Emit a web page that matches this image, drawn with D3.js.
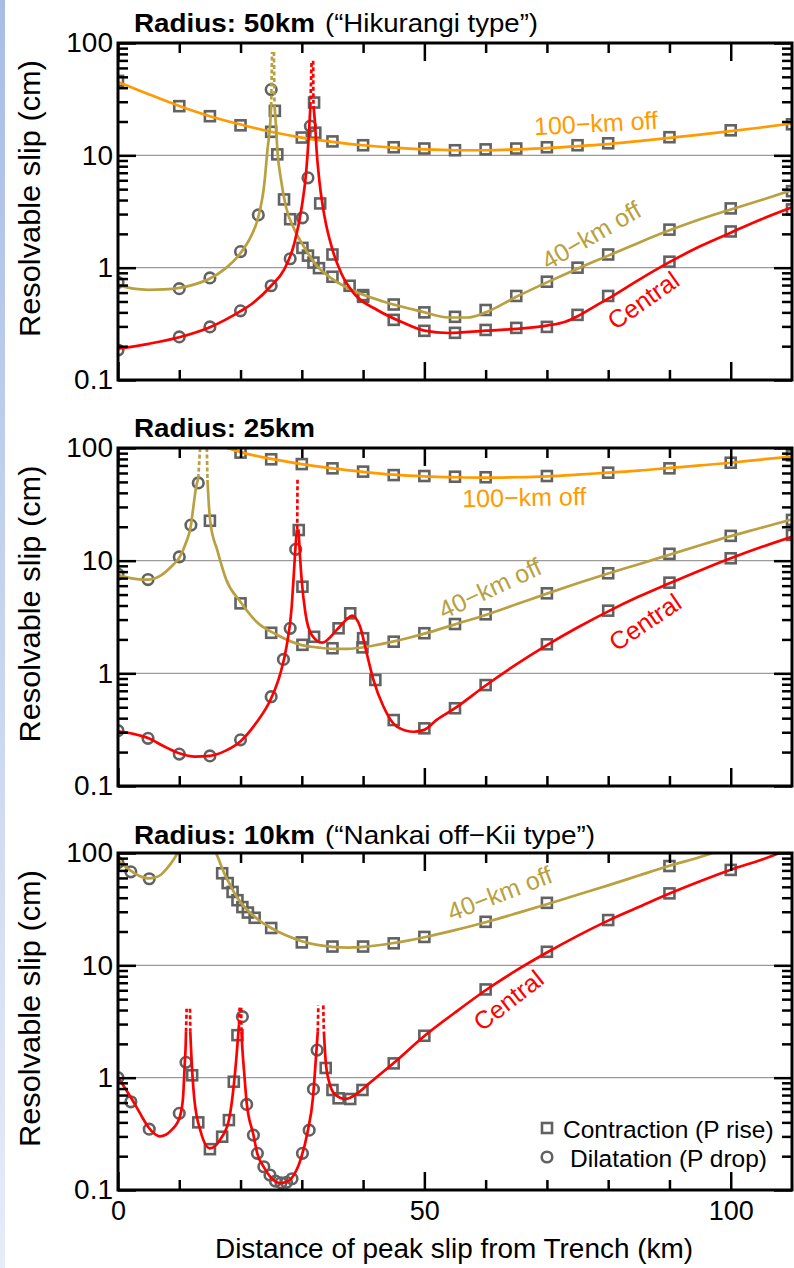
<!DOCTYPE html>
<html>
<head>
<meta charset="utf-8">
<script src="https://cdn.jsdelivr.net/npm/d3@7"></script>
<style>
  html, body { margin: 0; padding: 0; background: #fff; }
  svg { display: block; }
  text { font-family: "Liberation Sans", Arial, Helvetica, sans-serif; }
</style>
</head>
<body>
<div id="chart"></div>
<script>
// =========================
// AXES / TICKS
// =========================
const xDomain = [0, 110];
const yDomain = [0.1, 100];
const xMajorTicks = [0, 50, 100];
const xMinorTicks = [10, 20, 30, 40, 60, 70, 80, 90];
const yMajorTicks = [0.1, 1, 10, 100];
const yMinorTicks = [0.2, 0.3, 0.4, 0.5, 0.6, 0.7, 0.8, 0.9, 2, 3, 4, 5, 6, 7, 8, 9, 20, 30, 40, 50, 60, 70, 80, 90];
const gridValues = [1, 10];

const panelTitles = ["Radius: 50km", "Radius: 25km", "Radius: 10km"];
const panelSubtitles = ["(\u201CHikurangi type\u201D)", "", "(\u201CNankai off\u2212Kii type\u201D)"];
const legendLabels = ["Contraction (P rise)", "Dilatation (P drop)"];

// =========================
// RADIUS 50 km
// =========================
const r50Off100Line = [[0,45],[5,35],[10,27.5],[15,22.3],[20,18.8],[25,16.2],[30,14.4],[35,13.2],[40,12.3],[45,11.7],[50,11.3],[55,11.1],[60,11.1],[65,11.3],[70,11.6],[75,12.1],[80,12.6],[85,13.4],[90,14.3],[95,15.3],[100,16.4],[105,17.7],[110,19.2]];
const r50Off40Left = [[0,0.70],[2.5,0.65],[5,0.635],[7.5,0.64],[10,0.66],[12.5,0.71],[15,0.80],[17.5,0.98],[20,1.35],[21.7,1.9],[22.8,2.7],[23.9,5.7],[24.4,11.3],[24.85,19.5],[25.0,27.5]];
const r50Off40Right = [[25.55,27.5],[25.75,19.5],[26.0,11.3],[26.6,6.1],[27.4,3.5],[28.8,2.18],[30.3,1.55],[32.5,1.03],[35.2,0.78],[38,0.64],[43.3,0.5],[49.3,0.41],[54,0.36],[57,0.36],[60,0.40],[65,0.55],[70,0.74],[75,0.98],[80,1.28],[85,1.67],[90,2.15],[95,2.7],[100,3.3],[105,4.0],[110,4.9]];
const r50Off40Dash = [[[25.0,27.5],[25.15,83]], [[25.45,83],[25.55,27.5]]];
const r50CentralLeft = [[0,0.19],[5,0.21],[10,0.24],[15,0.295],[20,0.41],[21.7,0.47],[25,0.69],[27.1,0.96],[28.8,1.66],[30.0,3.5],[30.7,7],[31.1,13.9],[31.4,27.5]];
const r50CentralRight = [[31.9,27.5],[32.15,19.5],[32.4,11.3],[32.9,5.7],[33.7,2.87],[35,1.45],[36.4,0.9],[38.5,0.59],[42.3,0.42],[46.2,0.33],[50,0.275],[54,0.262],[60,0.275],[65,0.285],[70,0.305],[73,0.33],[75,0.37],[78,0.46],[80,0.53],[85,0.78],[90,1.12],[95,1.55],[100,2.05],[105,2.7],[110,3.45]];
const r50CentralDash = [[[31.4,27.5],[31.6,69.5]], [[31.85,69.5],[31.9,27.5]]];

const r50Off100Sq = [[0,46],[10,27.4],[15,22.3],[20,18.5],[25,16.2],[30,14.4],[35,13.3],[40,12.3],[45,11.8],[50,11.5],[55,11.1],[60,11.3],[65,11.5],[70,11.8],[75,12.3],[80,12.8],[90,14.5],[100,16.7],[110,18.9]];
const r50Off40Sq = [[25.6,24.9],[26.0,10.2],[27.1,4.05],[28.1,2.7],[30.1,1.5],[31.0,1.28],[31.9,1.11],[32.8,0.99],[35,0.83],[37.8,0.69],[40,0.57],[45,0.47],[50,0.40],[55,0.365],[60,0.42],[65,0.56],[70,0.75],[75,1.0],[80,1.31],[90,2.18],[100,3.37],[110,4.8]];
const r50Off40Ci = [[0,0.74],[10,0.65],[15,0.81],[20,1.39],[22.9,2.95],[25.0,38.5]];
const r50CentralSq = [[32.0,29.5],[32.2,15.9],[33.0,3.73],[35,1.31],[40,0.55],[45,0.343],[50,0.274],[55,0.263],[60,0.279],[65,0.291],[70,0.297],[75,0.38],[80,0.56],[90,1.13],[100,2.1],[110,3.3]];
const r50CentralCi = [[0,0.185],[10,0.242],[15,0.297],[20,0.413],[25.0,0.69],[28.1,1.2],[30.1,2.78],[31.0,6.3],[31.4,18.2]];

// =========================
// RADIUS 25 km
// =========================
const r25Off100Line = [[17.8,100],[20,92],[25,80],[30,72],[35,66],[40,61.5],[45,58],[50,56],[55,55],[60,54.5],[65,55],[70,56],[75,58],[80,60.5],[85,63],[90,66.5],[95,70],[100,74],[105,79],[110,84]];
const r25Off40Left = [[0,7.5],[2,7.0],[4,6.8],[5,6.8],[7,7.4],[9,9.2],[10,10.6],[11,14],[11.9,20.5],[12.3,30],[12.75,45],[13.1,54]];
const r25Off40Right = [[14.6,52],[14.8,33],[15.1,21.4],[16.2,12.4],[17.7,6.7],[20,4.3],[22.6,2.87],[26,2.19],[30,1.78],[32.5,1.7],[35,1.65],[37.5,1.65],[40,1.7],[42.5,1.8],[45,1.92],[47.5,2.07],[50,2.25],[55,2.72],[60,3.3],[65,4.1],[70,5.1],[75,6.3],[80,7.7],[85,9.3],[90,11.3],[95,13.7],[100,16.5],[105,19.6],[110,23.3]];
const r25Off40Dash = [[[13.1,54],[13.4,100]], [[14.5,100],[14.6,52]]];
const r25CentralLeft = [[0,0.305],[2.5,0.29],[5,0.265],[7.5,0.225],[10,0.195],[12.5,0.182],[15,0.185],[17.5,0.205],[20,0.25],[22.5,0.36],[25,0.6],[26.5,1.0],[27.5,1.72],[28.35,3.9],[28.7,7.7],[29.05,15.2],[29.2,19]];
const r25CentralRight = [[29.45,19],[29.7,11],[30,6.5],[30.6,3.4],[31.6,2.2],[33.3,1.87],[35.7,2.43],[37.3,3.0],[38.2,3.25],[39.5,2.6],[40.6,1.5],[41.7,0.87],[43.3,0.51],[45.5,0.337],[48.3,0.303],[50,0.315],[52,0.386],[55,0.49],[60,0.78],[65,1.2],[70,1.78],[75,2.55],[80,3.55],[85,4.8],[90,6.3],[95,8.2],[100,10.5],[105,13.2],[110,16.3]];
const r25CentralDash = [[[29.25,19],[29.3,54]]];

const r25Off100Sq = [[20,91],[25,79.4],[30,72],[35,66],[40,61.7],[45,57.5],[50,56.4],[55,55.6],[60,55],[70,56.4],[80,60.4],[90,66],[100,74],[110,86]];
const r25Off40Sq = [[15,22.6],[20,4.18],[25,2.29],[30.1,1.79],[35,1.67],[39.9,1.70],[45,1.91],[50,2.27],[55,2.74],[60,3.34],[70,5.13],[80,7.73],[90,11.5],[100,16.6],[110,23]];
const r25Off40Ci = [[0,7.6],[4.9,6.8],[10,10.8],[11.9,20.7],[13.1,49]];
const r25CentralSq = [[29.5,18.7],[30.1,5.87],[32,2.11],[36,2.51],[37.9,3.41],[40,2.05],[42,0.873],[45,0.385],[50,0.325],[55,0.49],[60,0.787],[70,1.81],[80,3.6],[90,6.38],[100,10.5],[110,16.9]];
const r25CentralCi = [[0,0.31],[4.9,0.265],[10,0.192],[15,0.185],[20,0.257],[25,0.62],[27,1.33],[28.1,2.51],[29,12.6]];

// =========================
// RADIUS 10 km
// =========================
const r10Off40Left = [[0,87],[1,77],[2,70],[3,64.5],[4,61],[5,59.5],[6,60.5],[7,64],[8,73],[9,86],[9.7,100]];
const r10Off40Right = [[16,100],[16.5,86],[17,73],[17.5,63],[18,56],[19,44],[20,36.5],[21,31.5],[22,28],[23,25.2],[25,21.5],[27.5,18.4],[30,16.4],[32.5,15.2],[35,14.6],[37.5,14.4],[40,14.6],[42.5,15.1],[45,15.8],[47.5,16.7],[50,17.8],[55,20.6],[60,24.2],[65,29],[70,35],[75,42.5],[80,51.5],[85,63],[90,77],[95,92],[97.1,100]];
const r10CentralA = [[0,1.0],[1,0.83],[2,0.68],[3,0.55],[4,0.44],[5,0.36],[6,0.315],[6.8,0.30],[7.8,0.31],[8.8,0.345],[9.6,0.39],[10.1,0.45],[10.6,0.65],[10.9,1.35],[11.05,2.0],[11.1,2.56]];
const r10CentralB = [[11.8,2.56],[11.9,1.9],[12.45,0.65],[13.5,0.33],[15,0.235],[16.8,0.288],[18.1,0.42],[18.9,0.86],[19.4,1.7],[19.75,3.0]];
const r10CentralC = [[20.15,2.56],[20.3,1.8],[20.6,1.1],[21,0.6],[22.1,0.31],[22.75,0.21],[23.8,0.16],[24.8,0.132],[25.8,0.118],[26.5,0.115],[27.3,0.117],[28.2,0.125],[29.85,0.19],[30.95,0.33],[31.8,0.65],[32.3,1.49],[32.6,2.56]];
const r10CentralD = [[33.6,2.56],[33.9,1.39],[34.45,0.92],[35.5,0.70],[37.1,0.646],[39,0.72],[41.3,0.92],[45,1.35],[50,2.35],[55,3.8],[60,6.0],[65,9.0],[70,13.0],[75,18.3],[80,25],[85,33],[90,43.5],[95,56],[100,71],[105,87],[108,100]];
const r10CentralDash = [[[11.1,2.56],[11.2,4.1]], [[11.75,4.1],[11.8,2.56]], [[19.75,3.0],[19.85,4.2]], [[20.1,4.2],[20.15,2.56]], [[32.6,2.56],[32.7,4.4]], [[33.5,4.4],[33.6,2.56]]];

const r10Off40Sq = [[17,66],[17.9,54],[18.7,45],[19.5,38],[20.3,33],[21.2,29.5],[22.3,26.5],[25,21.5],[30,16.0],[35,14.7],[40,14.7],[45,15.7],[50,17.9],[60,24.4],[70,36],[90,76.6]];
const r10Off40Ci = [[0,82],[2.1,68],[5.1,59]];
const r10CentralSq = [[12.1,1.05],[13.1,0.40],[15,0.231],[17,0.298],[18.1,0.419],[18.9,0.92],[19.5,2.39],[33.9,1.22],[35,0.777],[36,0.655],[37.9,0.646],[39.9,0.777],[45,1.34],[50,2.36],[60,6.1],[70,13.2],[80,25.3],[90,43.7],[100,70.7]];
const r10CentralCi = [[0,1.0],[2.1,0.61],[5.1,0.348],[10,0.481],[11.1,1.37],[20.3,3.49],[21,0.578],[22.1,0.308],[22.75,0.212],[23.8,0.161],[24.8,0.136],[25.7,0.12],[26.6,0.116],[27.5,0.117],[28.4,0.126],[30.1,0.212],[31.2,0.341],[31.9,0.79],[32.5,1.76]];

// curve labels: [text, x (km), y (cm), angle, series]
const r50Labels = [["100\u2212km off",78.0,19.4,-3,"off100"],["40\u2212km off",77.2,1.95,-30,"off40"],["Central",85.7,0.515,-35,"central"]];
const r25Labels = [["100\u2212km off",66.3,36.7,-1,"off100"],["40\u2212km off",60.7,5.7,-25,"off40"],["Central",86.0,2.86,-34,"central"]];
const r10Labels = [["40\u2212km off",62.3,44,-21,"off40"],["Central",63.7,4.9,-38,"central"]];

// =========================
// STYLE
// =========================
const COLORS = { off100: "#ff9a00", off40: "#b9a040", central: "#ff0000" };
const MARKER = "#626262";
const W = 794, H = 1268;
const frameX = [118, 792];

const layout = [
    { top: 43, bottom: 380, titleY: 31.5, subX: 325, subLen: 213 },
    { top: 448, bottom: 786, titleY: 437, subX: 325, subLen: 0 },
    { top: 853, bottom: 1190, titleY: 844, subX: 325, subLen: 270 }
];

const panels = [
    {
        series: [
            { key: "off100", solid: [r50Off100Line], dashed: [] },
            { key: "off40", solid: [r50Off40Left, r50Off40Right], dashed: r50Off40Dash },
            { key: "central", solid: [r50CentralLeft, r50CentralRight], dashed: r50CentralDash }
        ],
        squares: [...r50Off100Sq, ...r50Off40Sq, ...r50CentralSq],
        circles: [...r50Off40Ci, ...r50CentralCi],
        labels: r50Labels
    },
    {
        series: [
            { key: "off100", solid: [r25Off100Line], dashed: [] },
            { key: "off40", solid: [r25Off40Left, r25Off40Right], dashed: r25Off40Dash },
            { key: "central", solid: [r25CentralLeft, r25CentralRight], dashed: r25CentralDash }
        ],
        squares: [...r25Off100Sq, ...r25Off40Sq, ...r25CentralSq],
        circles: [...r25Off40Ci, ...r25CentralCi],
        labels: r25Labels
    },
    {
        series: [
            { key: "off40", solid: [r10Off40Left, r10Off40Right], dashed: [] },
            { key: "central", solid: [r10CentralA, r10CentralB, r10CentralC, r10CentralD], dashed: r10CentralDash }
        ],
        squares: [...r10Off40Sq, ...r10CentralSq],
        circles: [...r10Off40Ci, ...r10CentralCi],
        labels: r10Labels
    }
];

const svg = d3.select("#chart")
    .append("svg")
    .attr("width", W)
    .attr("height", H);

const defs = svg.append("defs");

// light blue strip on the left edge
const grad = defs.append("linearGradient")
    .attr("id", "strip")
    .attr("x1", 0).attr("y1", 0).attr("x2", 0).attr("y2", 1);
grad.append("stop").attr("offset", "0%").attr("stop-color", "#a8bde6");
grad.append("stop").attr("offset", "100%").attr("stop-color", "#e6ecf8");
svg.append("rect")
    .attr("x", 0).attr("y", 0)
    .attr("width", 5).attr("height", H)
    .attr("fill", "url(#strip)");

const x = d3.scaleLinear().domain(xDomain).range(frameX);

panels.forEach((p, i) => {
    const L = layout[i];
    const y = d3.scaleLog().domain(yDomain).range([L.bottom, L.top]);
    const g = svg.append("g");

    defs.append("clipPath").attr("id", "clip" + i)
        .append("rect")
        .attr("x", frameX[0]).attr("y", L.top)
        .attr("width", frameX[1] - frameX[0])
        .attr("height", L.bottom - L.top);

    // gridlines
    g.selectAll(".grid")
        .data(gridValues)
        .join("line")
        .attr("x1", frameX[0]).attr("x2", frameX[1])
        .attr("y1", d => y(d)).attr("y2", d => y(d))
        .attr("stroke", "#9a9a9a")
        .attr("stroke-width", 1.2);

    const plot = g.append("g").attr("clip-path", `url(#clip${i})`);

    // markers
    plot.selectAll(".sq")
        .data(p.squares)
        .join("rect")
        .attr("x", d => x(d[0]) - 5)
        .attr("y", d => y(d[1]) - 5)
        .attr("width", 10).attr("height", 10)
        .attr("fill", "none")
        .attr("stroke", MARKER)
        .attr("stroke-width", 2.6);

    plot.selectAll(".ci")
        .data(p.circles)
        .join("circle")
        .attr("cx", d => x(d[0]))
        .attr("cy", d => y(d[1]))
        .attr("r", 5.3)
        .attr("fill", "none")
        .attr("stroke", MARKER)
        .attr("stroke-width", 2.6);

    // curves
    const line = d3.line()
        .x(d => x(d[0]))
        .y(d => y(d[1]))
        .curve(d3.curveMonotoneX);
    const straight = d3.line().x(d => x(d[0])).y(d => y(d[1]));

    p.series.forEach(s => {
        s.solid.forEach(seg => {
            plot.append("path")
                .attr("d", line(seg))
                .attr("fill", "none")
                .attr("stroke", COLORS[s.key])
                .attr("stroke-width", 2.7);
        });
        s.dashed.forEach(seg => {
            plot.append("path")
                .attr("d", straight(seg))
                .attr("fill", "none")
                .attr("stroke", COLORS[s.key])
                .attr("stroke-width", 2.7)
                .attr("stroke-dasharray", "4,2.5");
        });
    });

    // curve labels
    g.selectAll(".lab")
        .data(p.labels)
        .join("text")
        .attr("transform", d => `translate(${x(d[1])},${y(d[2])}) rotate(${d[3]})`)
        .attr("text-anchor", "middle")
        .attr("dominant-baseline", "central")
        .style("font-size", "25px")
        .attr("fill", d => COLORS[d[4]])
        .text(d => d[0]);

    // ticks (inward on all four sides)
    const tickStyle = sel => {
        sel.select(".domain").remove();
        sel.selectAll("line").attr("stroke", "#000").attr("stroke-width", 2.5);
        sel.selectAll("text").remove();
    };
    g.append("g").attr("transform", `translate(${frameX[0]},0)`)
        .call(d3.axisRight(y).tickValues(yMajorTicks).tickSize(18)).call(tickStyle);
    g.append("g").attr("transform", `translate(${frameX[0]},0)`)
        .call(d3.axisRight(y).tickValues(yMinorTicks).tickSize(10)).call(tickStyle);
    g.append("g").attr("transform", `translate(${frameX[1]},0)`)
        .call(d3.axisLeft(y).tickValues(yMajorTicks).tickSize(18)).call(tickStyle);
    g.append("g").attr("transform", `translate(${frameX[1]},0)`)
        .call(d3.axisLeft(y).tickValues(yMinorTicks).tickSize(10)).call(tickStyle);
    g.append("g").attr("transform", `translate(0,${L.top})`)
        .call(d3.axisBottom(x).tickValues(xMajorTicks).tickSize(18)).call(tickStyle);
    g.append("g").attr("transform", `translate(0,${L.top})`)
        .call(d3.axisBottom(x).tickValues(xMinorTicks).tickSize(10)).call(tickStyle);
    g.append("g").attr("transform", `translate(0,${L.bottom})`)
        .call(d3.axisTop(x).tickValues(xMajorTicks).tickSize(18)).call(tickStyle);
    g.append("g").attr("transform", `translate(0,${L.bottom})`)
        .call(d3.axisTop(x).tickValues(xMinorTicks).tickSize(10)).call(tickStyle);

    // frame
    g.append("rect")
        .attr("x", frameX[0]).attr("y", L.top)
        .attr("width", frameX[1] - frameX[0])
        .attr("height", L.bottom - L.top)
        .attr("fill", "none")
        .attr("stroke", "#000")
        .attr("stroke-width", 3);

    // y tick labels
    const yLab = g.append("g").attr("transform", `translate(${frameX[0]},0)`)
        .call(d3.axisLeft(y).tickValues(yMajorTicks).tickSize(0).tickPadding(5)
            .tickFormat(d => d >= 1 ? d3.format("d")(d) : "0.1"));
    yLab.select(".domain").remove();
    yLab.selectAll("text").style("font-size", "28px").attr("fill", "#000")
        .attr("font-family", null);

    // y axis title
    g.append("text")
        .attr("transform", `translate(40,${(L.top + L.bottom) / 2 - 13}) rotate(-90)`)
        .attr("text-anchor", "middle")
        .attr("textLength", 277)
        .attr("lengthAdjust", "spacingAndGlyphs")
        .style("font-size", "30px")
        .text("Resolvable slip (cm)");

    // panel title
    g.append("text")
        .attr("x", 134).attr("y", L.titleY)
        .attr("textLength", 181)
        .attr("lengthAdjust", "spacingAndGlyphs")
        .style("font-size", "26px")
        .style("font-weight", "bold")
        .text(panelTitles[i]);
    if (panelSubtitles[i]) {
        g.append("text")
            .attr("x", L.subX).attr("y", L.titleY)
            .attr("textLength", L.subLen)
            .attr("lengthAdjust", "spacingAndGlyphs")
            .style("font-size", "26px")
            .text(panelSubtitles[i]);
    }

    // x tick labels + axis title only on the last panel
    if (i === panels.length - 1) {
        const xLab = g.append("g").attr("transform", `translate(0,${L.bottom})`)
            .call(d3.axisBottom(x).tickValues(xMajorTicks).tickSize(0).tickPadding(11));
        xLab.select(".domain").remove();
        xLab.selectAll("text").style("font-size", "27px").attr("fill", "#000")
            .attr("font-family", null);

        g.append("text")
            .attr("x", 454).attr("y", 1258)
            .attr("text-anchor", "middle")
            .attr("textLength", 478)
            .attr("lengthAdjust", "spacingAndGlyphs")
            .style("font-size", "27px")
            .text("Distance of peak slip from Trench (km)");

        // legend
        const leg = g.append("g");
        leg.append("rect")
            .attr("x", 542).attr("y", 1123).attr("width", 10).attr("height", 10)
            .attr("fill", "none").attr("stroke", MARKER).attr("stroke-width", 2.6);
        leg.append("circle")
            .attr("cx", 547).attr("cy", 1157).attr("r", 5.3)
            .attr("fill", "none").attr("stroke", MARKER).attr("stroke-width", 2.6);
        leg.append("text").attr("x", 563).attr("y", 1138)
            .style("font-size", "24.5px").text(legendLabels[0]);
        leg.append("text").attr("x", 570).attr("y", 1166.5)
            .style("font-size", "24.5px").text(legendLabels[1]);
    }
});
</script>
</body>
</html>
